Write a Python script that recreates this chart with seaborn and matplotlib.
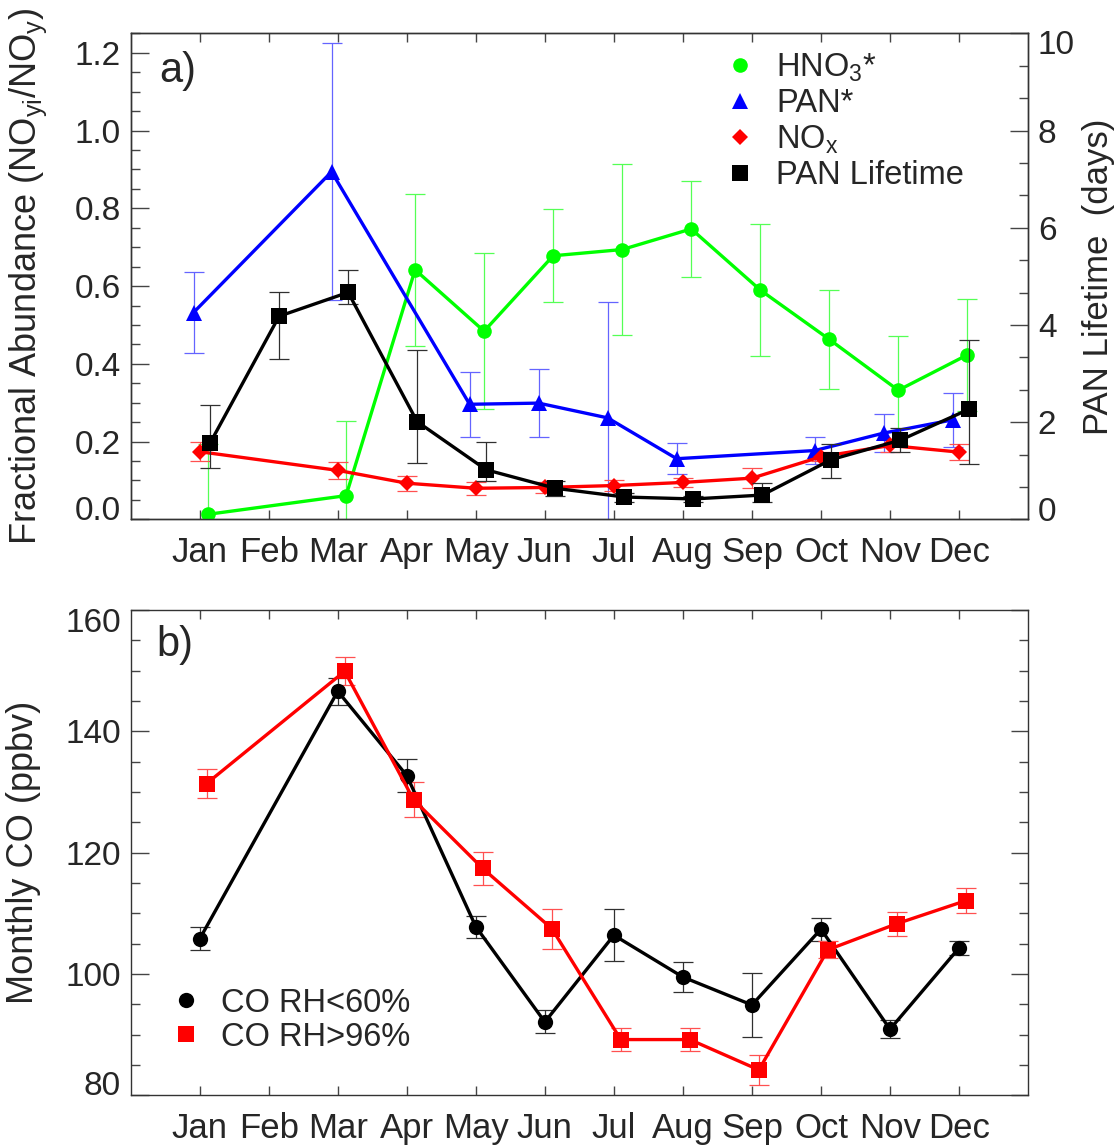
import numpy as np
import matplotlib
matplotlib.use('Agg')
import matplotlib.pyplot as plt
from matplotlib.lines import Line2D
from matplotlib.ticker import MultipleLocator
from matplotlib.transforms import ScaledTranslation
import seaborn as sns

month_names = ['Jan', 'Feb', 'Mar', 'Apr', 'May', 'Jun',
               'Jul', 'Aug', 'Sep', 'Oct', 'Nov', 'Dec']

# panel a) fractional abundance (left axis)
hno3_months = [1, 3, 4, 5, 6, 7, 8, 9, 10, 11, 12]
hno3 = [0.013, 0.061, 0.642, 0.484, 0.678, 0.694, 0.747, 0.590, 0.463, 0.332, 0.423]
hno3_err = [0.18, 0.193, 0.195, 0.20, 0.12, 0.22, 0.124, 0.169, 0.127, 0.14, 0.145]

pan_months = [1, 3, 5, 6, 7, 8, 10, 11, 12]
pan = [0.532, 0.894, 0.296, 0.299, 0.261, 0.156, 0.177, 0.222, 0.256]
pan_err = [0.103, 0.33, 0.084, 0.087, 0.297, 0.040, 0.034, 0.048, 0.069]

nox_months = [1, 3, 4, 5, 6, 7, 8, 9, 10, 11, 12]
nox = [0.174, 0.126, 0.093, 0.080, 0.082, 0.087, 0.095, 0.106, 0.161, 0.190, 0.173]
nox_err = [0.025, 0.021, 0.019, 0.017, 0.015, 0.013, 0.012, 0.025, 0.012, 0.017, 0.021]

# PAN lifetime (right axis, days), bars are asymmetric
life_months = [1, 2, 3, 4, 5, 6, 7, 8, 9, 10, 11, 12]
life = [1.57, 4.18, 4.67, 2.01, 1.02, 0.64, 0.46, 0.42, 0.50, 1.23, 1.63, 2.27]
life_lo = [1.05, 3.29, 4.43, 1.15, 0.78, 0.49, 0.36, 0.35, 0.36, 0.86, 1.38, 1.13]
life_hi = [2.35, 4.67, 5.14, 3.48, 1.59, 0.79, 0.54, 0.49, 0.74, 1.55, 1.89, 3.69]

# panel b) monthly CO
co_months = [1, 3, 4, 5, 6, 7, 8, 9, 10, 11, 12]
co_dry = [105.8, 146.6, 132.7, 107.8, 92.1, 106.4, 99.5, 94.9, 107.4, 90.9, 104.3]
co_dry_err = [1.9, 2.2, 2.7, 1.8, 1.9, 4.3, 2.5, 5.2, 1.9, 1.5, 1.1]
co_wet = [131.4, 149.9, 128.7, 117.4, 107.5, 89.2, 89.2, 84.2, 104.0, 108.3, 112.1]
co_wet_err = [2.4, 2.3, 2.9, 2.7, 3.3, 1.9, 1.9, 2.5, 1.4, 2.0, 2.0]

sns.set_style('ticks')
plt.rcParams['font.family'] = ['Liberation Sans', 'DejaVu Sans']
plt.rcParams['mathtext.default'] = 'regular'

GREEN, BLUE, RED, BLACK = '#00ff00', '#0000ff', '#ff0000', '#000000'
TICK_C = '#444444'
TICK_FS, MONTH_FS, LEG_FS, LAB_FS = 24, 25, 23.5, 26


def draw(axis, months, vals, lo, hi, color, ecolor, marker, ms, shift):
    x = np.asarray(months, dtype=float) + shift
    axis.errorbar(x, vals, yerr=[lo, hi], fmt='none', ecolor=ecolor,
                  elinewidth=0.9, capsize=7, capthick=0.9, zorder=2)
    sns.lineplot(x=x, y=vals, ax=axis, color=color, marker=marker,
                 markersize=ms, markeredgewidth=0, linewidth=2.4,
                 sort=False, legend=False, errorbar=None, zorder=3)


def nudge(label, dy):
    label.set_transform(label.get_transform() +
                        ScaledTranslation(0, dy / 100, fig.dpi_scale_trans))


def style_x(axis):
    axis.set_xlim(0, 13)
    axis.set_xticks(range(1, 13))
    axis.set_xticklabels(month_names)
    axis.tick_params(axis='x', direction='in', length=6.5, width=1,
                     top=True, bottom=True, labelsize=MONTH_FS, pad=12, color=TICK_C)
    axis.set_xlabel('')


fig = plt.figure(figsize=(11.2, 11.47), dpi=100)
ax = fig.add_axes([0.1167, 0.5472, 0.8012, 0.4237])
ax_b = fig.add_axes([0.1167, 0.0450, 0.8012, 0.4232])

# ---- panel a)
draw(ax, hno3_months, hno3, hno3_err, hno3_err, GREEN, '#55ff55', 'o', 10.5, 0.12)
draw(ax, pan_months, pan, pan_err, pan_err, BLUE, '#6464ff', '^', 11, -0.09)
draw(ax, nox_months, nox, nox_err, nox_err, RED, '#ff5050', 'D', 8, 0.0)

ax2 = ax.twinx()
life_a = np.array(life)
draw(ax2, life_months, life, life_a - np.array(life_lo), np.array(life_hi) - life_a,
     BLACK, '#303030', 's', 11, 0.15)

style_x(ax)
ax.set_ylim(0, 1.25)
ax.set_yticks(np.arange(0, 1.21, 0.2))
ax.set_yticklabels(['0.0', '0.2', '0.4', '0.6', '0.8', '1.0', '1.2'])
ax.yaxis.set_minor_locator(MultipleLocator(0.05))
ax.tick_params(axis='y', which='major', direction='in', length=12.6, width=1,
               labelsize=TICK_FS, pad=7, color=TICK_C)
ax.tick_params(axis='y', which='minor', direction='in', length=6.2, width=1, color=TICK_C)
ax.set_ylabel('Fractional Abundance (NO$_{yi}$/NO$_y$)', fontsize=LAB_FS)
ax.yaxis.label.set_va('center')
ax.yaxis.set_label_coords(-0.114, 0.5)

ax2.set_ylim(0, 10)
ax2.set_yticks(range(0, 11, 2))
ax2.yaxis.set_minor_locator(MultipleLocator(2 / 3))
ax2.tick_params(axis='y', which='major', direction='in', length=13, width=1,
                labelsize=TICK_FS, pad=7, color=TICK_C)
ax2.tick_params(axis='y', which='minor', direction='in', length=6.5, width=1, color=TICK_C)
ax2.set_ylabel('PAN Lifetime  (days)', fontsize=25)
ax2.yaxis.label.set_va('center')
ax2.yaxis.set_label_coords(1.079, 0.5)

ax.text(0.0315, 0.922, 'a)', transform=ax.transAxes, fontsize=30,
        ha='left', va='center')

handles_a = [
    Line2D([], [], ls='none', marker='o', ms=10.5, mew=0, color=GREEN),
    Line2D([], [], ls='none', marker='^', ms=11, mew=0, color=BLUE),
    Line2D([], [], ls='none', marker='D', ms=8, mew=0, color=RED),
    Line2D([], [], ls='none', marker='s', ms=11, mew=0, color=BLACK),
]
ax2.legend(handles_a, ['HNO$_3$*', 'PAN*', 'NO$_x$', 'PAN Lifetime'],
           loc='upper left', bbox_to_anchor=(0.662, 0.962), frameon=False,
           fontsize=LEG_FS, handlelength=0.95, handletextpad=0.62,
           labelspacing=0.13, borderpad=0, borderaxespad=0)

# ---- panel b)
draw(ax_b, co_months, co_dry, co_dry_err, co_dry_err, BLACK, '#303030', 'o', 11, 0.0)
draw(ax_b, co_months, co_wet, co_wet_err, co_wet_err, RED, '#ff5050', 's', 11, 0.1)
style_x(ax_b)
ax_b.set_ylim(80, 160)
ax_b.set_yticks(range(80, 161, 20))
ax_b.yaxis.set_minor_locator(MultipleLocator(5))
ax_b.tick_params(axis='y', which='major', direction='in', length=12.6, width=1,
                 left=True, right=True, labelsize=TICK_FS, pad=7, color=TICK_C)
ax_b.tick_params(axis='y', which='minor', direction='in', length=6.2, width=1,
                 left=True, right=True, color=TICK_C)
ax_b.set_ylabel('Monthly CO (ppbv)', fontsize=LAB_FS)
ax_b.yaxis.label.set_va('center')
ax_b.yaxis.set_label_coords(-0.120, 0.5)
ax_b.text(0.029, 0.928, 'b)', transform=ax_b.transAxes, fontsize=30,
          ha='left', va='center')

handles_b = [
    Line2D([], [], ls='none', marker='o', ms=11, mew=0, color=BLACK),
    Line2D([], [], ls='none', marker='s', ms=11, mew=0, color=RED),
]
ax_b.legend(handles_b, ['CO RH<60%', 'CO RH>96%'], loc='upper left',
            bbox_to_anchor=(0.044, 0.222), frameon=False, fontsize=LEG_FS,
            handlelength=0.95, handletextpad=0.62, labelspacing=0.1,
            borderpad=0, borderaxespad=0)

for a in (ax, ax2, ax_b):
    for sp in a.spines.values():
        sp.set_color('#333333')
        sp.set_linewidth(1.0)
        sp.set_visible(True)

# end labels sit slightly inside the frame, as in the original
lab = ax.get_yticklabels()
nudge(lab[0], 11)
lab2 = ax2.get_yticklabels()
nudge(lab2[0], 10)
nudge(lab2[-1], -9)
labb = ax_b.get_yticklabels()
nudge(labb[0], 12)
nudge(labb[-1], -10)

fig.savefig('out.png', dpi=100)
